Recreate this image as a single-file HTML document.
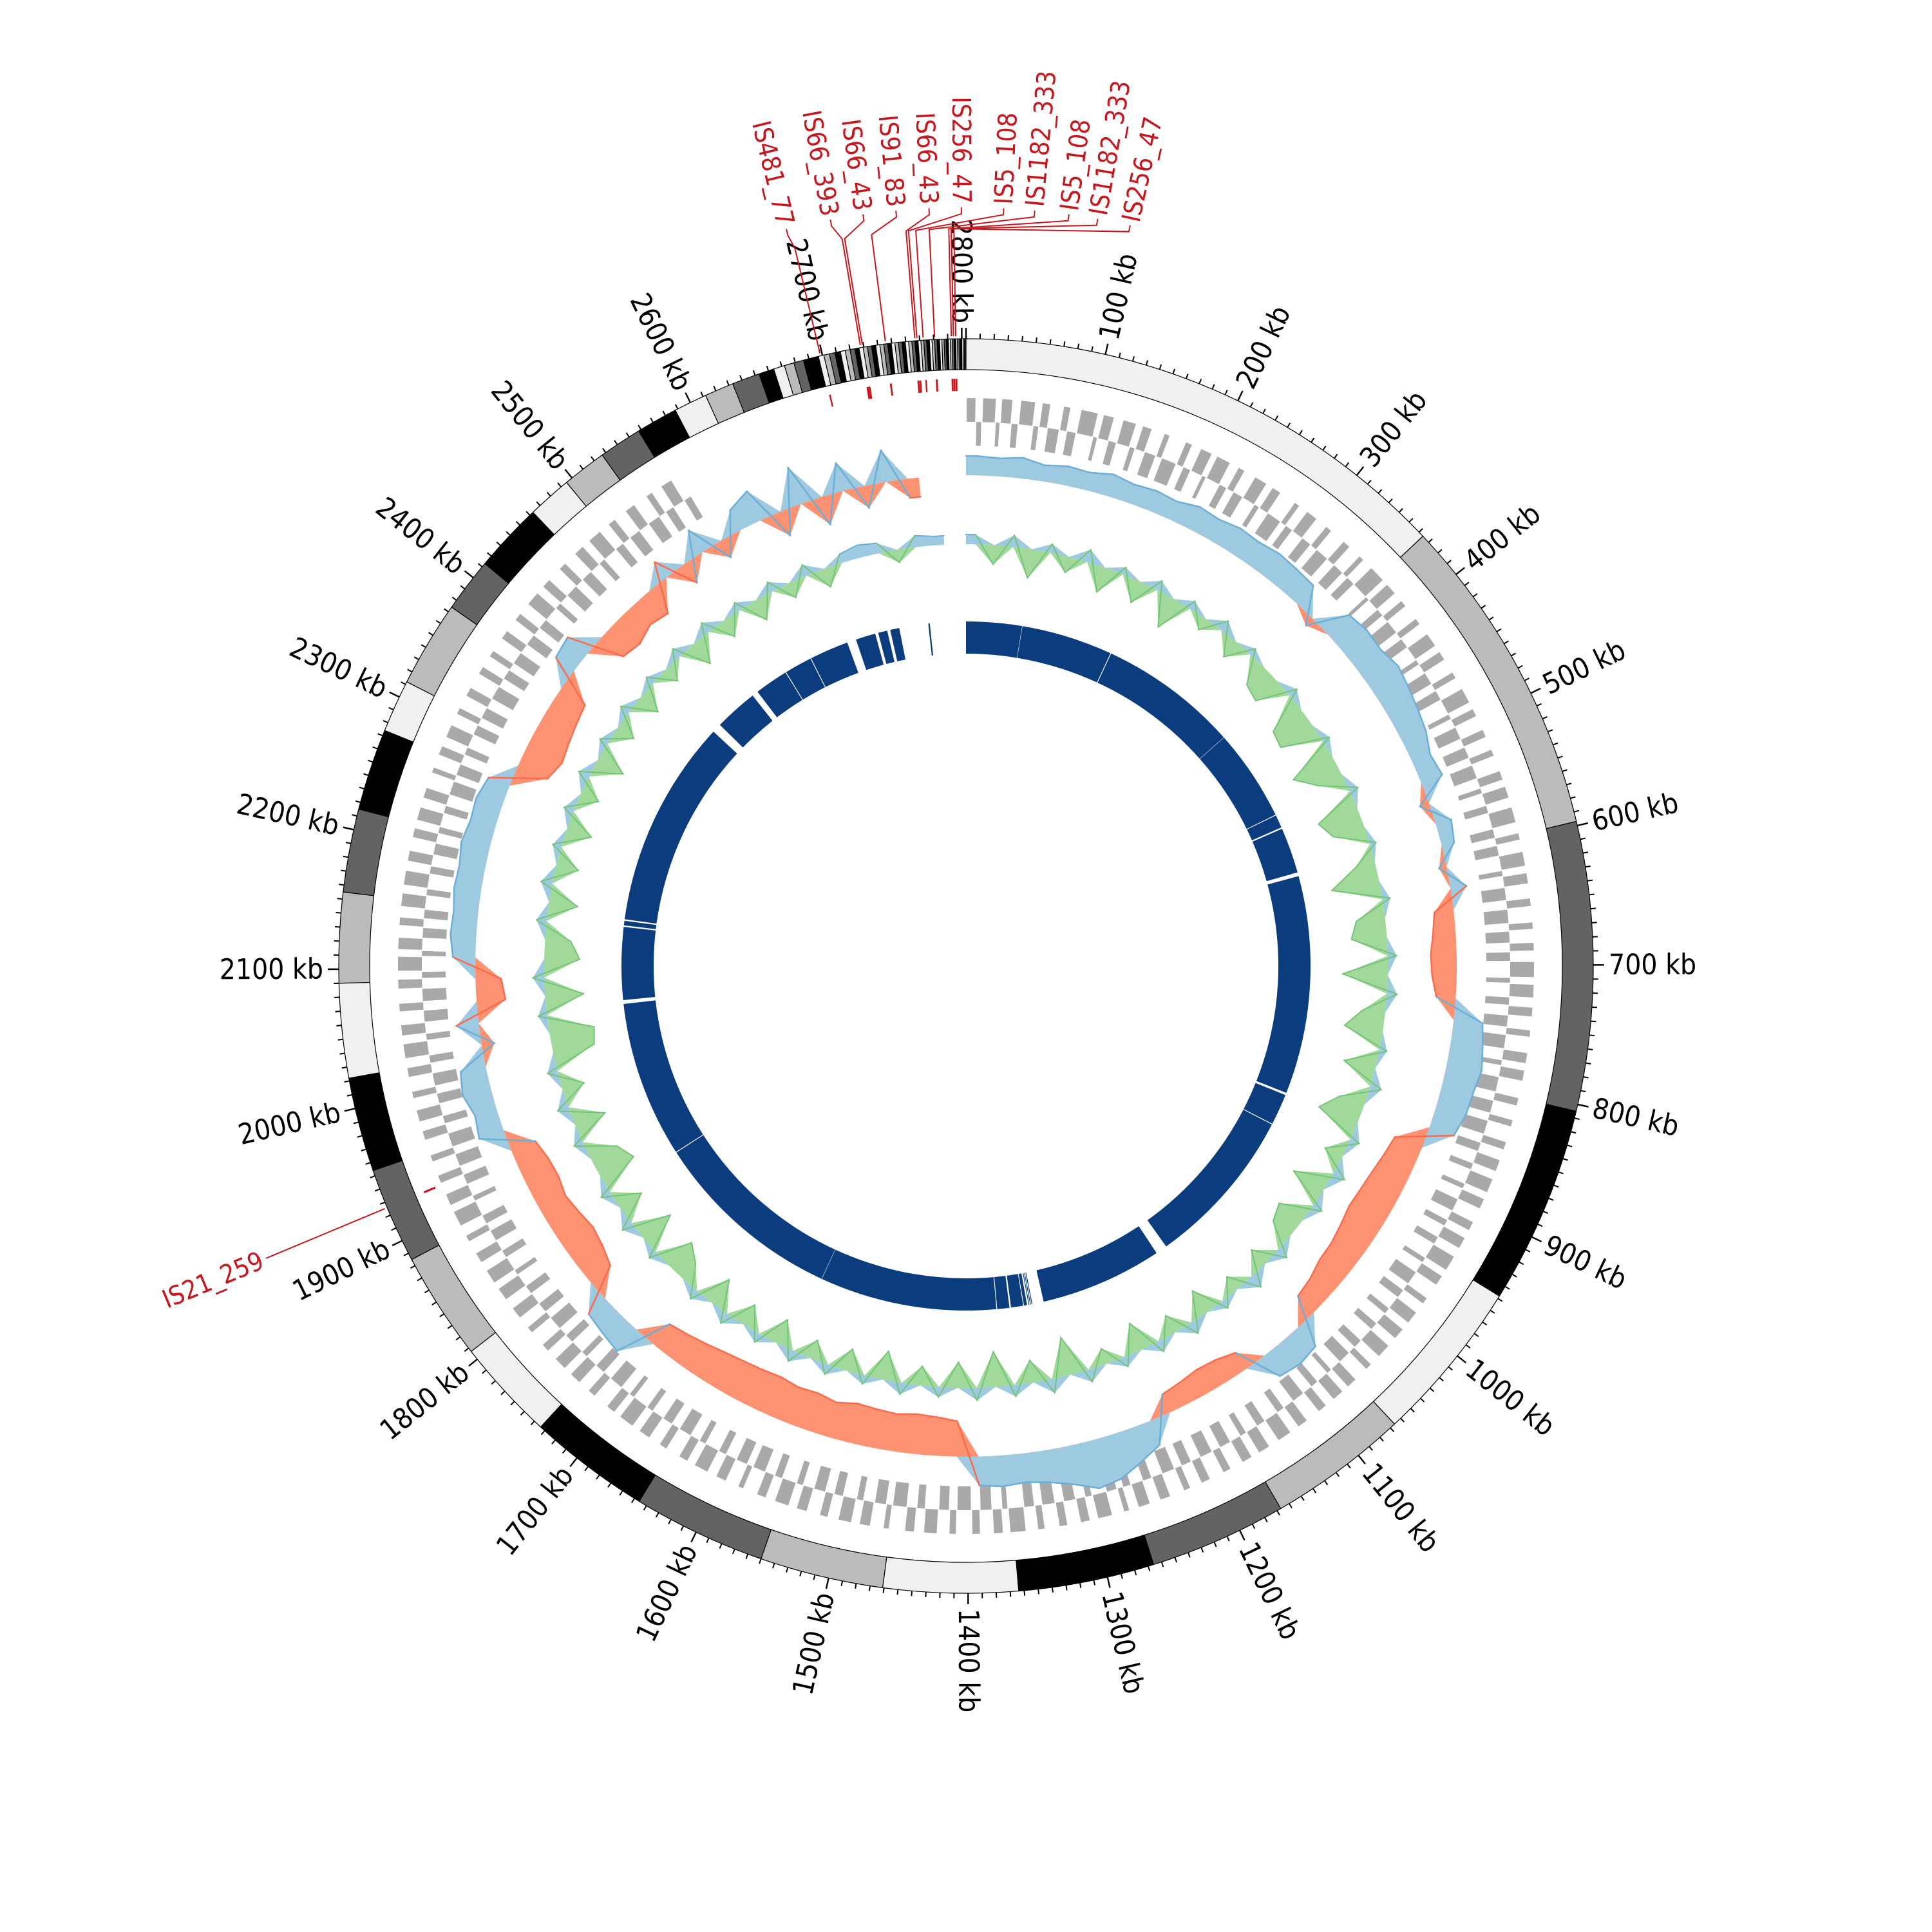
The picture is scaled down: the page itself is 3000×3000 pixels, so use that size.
<!DOCTYPE html>
<html><head><meta charset="utf-8"><title>Circular genome map</title>
<style>
html,body{margin:0;padding:0;background:#fff;}
svg{display:block;}
text{font-family:"DejaVu Sans Condensed","DejaVu Sans","Liberation Sans",sans-serif;}
</style></head>
<body>
<svg id="chart" width="3000" height="3000" viewBox="0 0 3000 3000" xmlns="http://www.w3.org/2000/svg">
<rect x="0" y="0" width="3000" height="3000" fill="#fff"/>
</svg>
<script>
// ---------- data ----------
const genomeKb = 2803;
const contigLengths = [364,233,208,143,118,101,99,98,97,89,96,88,73,78,69,68,68,65,60,59,38,62,39,50,32,32,31,30,24,21,20,11,8,7,7,11,4,
 4,4,4,3.5,3.5,3.5,3,3,3,3,3,3,2.8,2.8,2.6,2.6,2.5,2.5,2.4,2.4,2.3,2.2,2.2,2.1,2,2,2,1.9,1.8,1.8,1.7,1.7,1.6,1.5,1.5,1.4,1.4,1.3,1.2,1.2,1.1,1,1,1,0.9,0.9];
const isNames = ["IS481_77","IS66_393","IS66_43","IS91_83","IS66_43","IS256_47","IS5_108","IS1182_333","IS5_108","IS1182_333","IS256_47","IS21_259"];
const isStarts = [2698,2727,2728.5,2745,2766,2767.5,2772,2780,2792,2793.3,2795,1925];
const isLengths = [1.2,1.5,1.5,1.4,1.4,1.4,1.2,1.5,1.2,1.5,1.4,1.6];
const geneBlocks = [8,5,11,4,9,6,12,5,7,10,6,8,14,4,9,7,11,5,8,10,5,13,6,7,10,4,12,7,6,9,
 11,5,8,13,5,7,10,9,6,12,7,10,5,8,14,4,10,7,6,12,6,9,12,5,8,11,6,9,13,5,
 7,11,7,10,6,12,8,5,10,7,13,8,6,9,12,5,9,11,7,12,6,10,7,8,13,5,11,7,8,10,
 6,12,9,5,9,13,7,11,6,12,7,8,10,6,12,5,9,11,8,6,10,7,13,5,9,12,6,8,11,6,
 10,7,12,8,6,11,9,5,10,7,8,11,9,7,12,8,10,6,9,10,7,11,8,9,6,11,9,8,10,7,
 5,9,12,6,8,10,7,11,6,9,13,5,8,10,7,12,6,9,11,7,8,12,5,10,9,6,11,8,7,10,
 9,6,12,7,8,11,5,10,9,7,12,6,8,11,7,9,10,6,13,5,8,12,7,9,10,6,11,8,7,12,
 6,9,10,8,11,5,12,7,9,10,6,8,13,5,10,9,7,11,6,12,8,7,10,9,6,11,8,7,12,6,
 9,10,7,11,8,6,12,5,10,9,7,8,11,6,12,7,9,10,8,6,11,7,9,12,5,10,8,7,11,9,
 6,10,8,12,7,9,6,11,8,10,7,9,12,6,8,11,7,10,9,6,12,8,7,10,9,11,6,8,10,7];
const gcBinKb = 20;
const gcValues = [30,28,32,25,30,28,35,30,33,30,38,35,40,38,42,40,38,-15,45,50,
 48,55,50,45,40,30,35,-15,25,20,-12,25,-30,-35,-40,-38,-30,45,50,
 55,50,48,40,-45,-50,-55,-58,-60,-55,-50,-48,-40,-35,40,45,40,-30,-38,-40,
 -35,-30,40,55,70,75,60,50,45,48,45,-55,-60,-62,-58,-60,-62,-55,-60,-58,
 -62,-60,-58,-55,-50,-45,-40,45,40,35,-40,-50,-55,-50,-45,-50,-48,-40,40,35,
 45,40,-20,35,-45,-40,35,40,38,42,40,45,40,42,35,-50,-60,-55,-50,-45,
 35,40,-45,-50,-40,-45,30,-35,40,-30,35,50,-40,60,-45,45,-35,50,-30];
const skewValues = [15,-30,18,-45,14,-25,20,-40,12,-35,16,-50,14,-20,18,-30,12,-38,-45,15,
 -55,-60,12,-70,-40,14,-65,-50,10,-30,-75,12,-45,-55,14,-70,16,-35,-60,12,
 -50,18,-40,-65,15,-30,20,-55,16,-45,-35,18,-30,22,-25,14,-40,20,-30,18,
 -45,16,-25,20,-60,22,-35,18,-55,20,-40,16,-30,18,-45,14,-35,16,-30,18,
 -40,15,-35,18,-45,16,-30,-50,14,-55,18,-40,16,-60,-45,15,-50,18,-35,16,
 -65,-70,14,-60,18,-55,-40,16,-45,18,-35,14,-40,16,-30,18,-45,14,-30,16,
 -35,14,-25,16,-40,18,-30,14,-35,16,-25,18,-30,14,20,16,-20,18,14];
const blockStarts = [0,73.5,194,377.5,499,518,583,872,914,1140,1315,1317,1319,1322,1327,1345,1362,1594.5,1848,2058,2155,2163,2448,2513,2558,2595,2658,2688,2704,2754];
const blockEnds   = [73,193,377,498,516,578,869,913,1125,1300,1316,1318,1320,1326,1343,1361,1594,1847,2053,2153,2161,2436,2505,2557,2594,2646,2684,2700,2716,2756];
const majorTicks = [100,200,300,400,500,600,700,800,900,1000,1100,1200,1300,1400,1500,1600,1700,1800,1900,2000,2100,2200,2300,2400,2500,2600,2700,2800];

// ---------- geometry ----------
const NS="http://www.w3.org/2000/svg";
const svg=document.getElementById('chart');
const CX=1500, CY=1500;
function ang(kb){return kb/genomeKb*2*Math.PI;}
function pt(kb,r){const a=ang(kb);return [CX+r*Math.sin(a),CY-r*Math.cos(a)];}
function ptDeg(d,r){const a=d*Math.PI/180;return [CX+r*Math.sin(a),CY-r*Math.cos(a)];}
function arcPath(k1,k2,ra,rb){
  const r1=Math.min(ra,rb), r2=Math.max(ra,rb);
  const large=(k2-k1)/genomeKb>0.5?1:0;
  const a=pt(k1,r2),b=pt(k2,r2),c=pt(k2,r1),d=pt(k1,r1);
  return `M${a[0].toFixed(2)},${a[1].toFixed(2)}A${r2},${r2} 0 ${large} 1 ${b[0].toFixed(2)},${b[1].toFixed(2)}L${c[0].toFixed(2)},${c[1].toFixed(2)}A${r1},${r1} 0 ${large} 0 ${d[0].toFixed(2)},${d[1].toFixed(2)}Z`;
}
function mk(tag,attrs,parent){const e=document.createElementNS(NS,tag);for(const k in attrs)e.setAttribute(k,attrs[k]);(parent||svg).appendChild(e);return e;}
function grp(){const g=document.createElementNS(NS,'g');svg.appendChild(g);return g;}

// ---------- ideogram ring ----------
const R_OUT=974, R_IN=926;
const bandColors=['#f0f0f0','#bbbbbb','#636363','#000000'];
const ideo=grp();


let pos=0;
contigLengths.forEach((len,i)=>{
  const end=Math.min(pos+len,genomeKb);
  const p=mk('path',{d:arcPath(pos,end,R_IN,R_OUT),fill:bandColors[i%4],stroke:'#000','stroke-width':'1.2'},ideo);
  
  
  pos=end;
});

// ---------- ticks ----------
const ticks=grp();


for(let kb=0;kb<genomeKb;kb+=10){
  const major=(kb%100===0);
  const a=pt(kb,R_OUT), b=pt(kb,R_OUT+(major?17:8));
  const l=mk('line',{x1:a[0],y1:a[1],x2:b[0],y2:b[1],stroke:'#000','stroke-width':major?2.4:2},ticks);
  
  
}
majorTicks.forEach(kb=>{
  const th=kb/genomeKb*360;
  const p=pt(kb,998);
  const right=th<180;
  const rot=right?th-90:th-270;
  const t=mk('text',{x:p[0],y:p[1],'font-size':44,fill:'#000','text-anchor':right?'start':'end','dominant-baseline':'central',transform:`rotate(${rot} ${p[0]} ${p[1]})`},ticks);
  t.textContent=kb+' kb';
  
  
});

// ---------- IS elements track ----------
const isTrack=grp();


isStarts.forEach((s,i)=>{
  const w=Math.max(isLengths[i],1.2);
  const p=mk('path',{d:arcPath(s,s+w,893,912),fill:'#c8161d'},isTrack);
  
  
});
const labelAngles=[-13.7,-10.3,-7.8,-5.3,-2.8,-0.35,2.85,5.2,7.8,10.0,12.5,null];
isStarts.forEach((s,i)=>{
  const mid=s+isLengths[i]/2;
  const thM=mid/genomeKb*360;
  let thL=labelAngles[i]===null?thM:labelAngles[i];
  const a=pt(mid,978), b=pt(mid,1145);
  const c=ptDeg(thL,1168);
  const lp=ptDeg(thL,1178);
  const pl=mk('polyline',{points:`${a[0]},${a[1]} ${b[0]},${b[1]} ${c[0]},${c[1]} ${lp[0]},${lp[1]}`,fill:'none',stroke:'#c8161d','stroke-width':2},isTrack);
  
  
  let thN=((thL%360)+360)%360;
  const right=thN<180;
  const rot=right?thN-90:thN-270;
  const tp=ptDeg(thL,1184);
  const t=mk('text',{x:tp[0],y:tp[1],'font-size':40,fill:'#c8161d','text-anchor':right?'start':'end','dominant-baseline':'central',transform:`rotate(${rot} ${tp[0]} ${tp[1]})`},isTrack);
  t.textContent=isNames[i];
  
  
});

// ---------- gene track ----------
const genes=grp();


let gp=0;
geneBlocks.forEach((len,i)=>{
  if(gp>=genomeKb)return;
  const end=Math.min(gp+len,genomeKb);
  const outer=(i%2===0);
  const p=mk('path',{d:arcPath(gp+0.5,end-0.5,outer?845:808,outer?882:845),fill:'#a9a9a9'},genes);
  
  
  gp=end;
});

// ---------- smooth area track helper ----------
function areaTrack(group,values,base,posFill,posLine,negFill,negLine,nameP,nameN,lw){
  const n=values.length;
  const lastKb=Math.min(n*gcBinKb,genomeKb);
  function pts(sign){
    const arr=[];
    const f=v=>sign>0?Math.max(v,0):Math.min(v,0);
    arr.push(pt(0,base+f(values[0])));
    values.forEach((v,i)=>arr.push(pt(i*gcBinKb+gcBinKb/2,base+f(v))));
    arr.push(pt(lastKb,base+f(values[n-1])));
    return arr;
  }
  function fillPath(sign){
    const s0=pt(0,base), be=pt(lastKb,base);
    let d=`M${s0[0].toFixed(2)},${s0[1].toFixed(2)}`;
    pts(sign).forEach(p=>{d+=`L${p[0].toFixed(2)},${p[1].toFixed(2)}`;});
    d+=`L${be[0].toFixed(2)},${be[1].toFixed(2)}A${base},${base} 0 1 0 ${s0[0].toFixed(2)},${s0[1].toFixed(2)}Z`;
    return d;
  }
  const fp=mk('path',{d:fillPath(1),fill:posFill,stroke:'none'},group);
  
  
  const fn=mk('path',{d:fillPath(-1),fill:negFill,stroke:'none'},group);
  
  
  // outline through signed values, coloured per segment
  const kbs=[0].concat(values.map((v,i)=>i*gcBinKb+gcBinKb/2)).concat([lastKb]);
  const vs=[values[0]].concat(values).concat([values[n-1]]);
  for(let i=0;i<kbs.length-1;i++){
    const a=pt(kbs[i],base+vs[i]), b=pt(kbs[i+1],base+vs[i+1]);
    const s=(vs[i]+vs[i+1])>=0;
    const ln=mk('line',{x1:a[0].toFixed(2),y1:a[1].toFixed(2),x2:b[0].toFixed(2),y2:b[1].toFixed(2),stroke:s?posLine:negLine,'stroke-width':lw,'stroke-linecap':'round'},group);
    
    
  }
}

const gc=grp();


areaTrack(gc,gcValues,762,'#9ecae1','#6baed6','#fc9272','#fb6a4a','gc-positive-area','gc-negative-area',2.5);

const sk=grp();


areaTrack(sk,skewValues,655,'#9ecae1','#6baed6','#a1d99b','#74c476','skew-positive-area','skew-negative-area',2);

// ---------- conserved blocks ----------
const bl=grp();


blockStarts.forEach((s,i)=>{
  const p=mk('path',{d:arcPath(s,blockEnds[i],485,535),fill:'#0b3d7e'},bl);
  
  
});
</script>
</body></html>
